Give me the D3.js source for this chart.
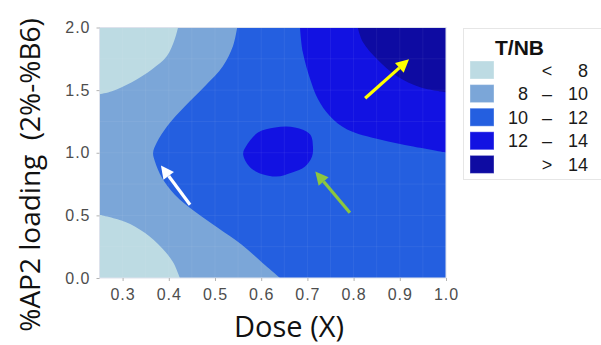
<!DOCTYPE html>
<html>
<head>
<meta charset="utf-8">
<script src="https://cdn.jsdelivr.net/npm/d3@7"></script>
<style>
  body { margin: 0; background: #fff; }
  svg { display: block; }
</style>
</head>
<body>
<script>
// T/NB contour map, Dose (X) vs %AP2 loading

var xTicks = [0.3, 0.4, 0.5, 0.6, 0.7, 0.8, 0.9, 1.0];
var yTicks = [0.0, 0.5, 1.0, 1.5, 2.0];

var bandLabels = [["", "<", "8"], ["8", "\u2013", "10"], ["10", "\u2013", "12"], ["12", "\u2013", "14"], ["", ">", "14"]];
var bandColors = ["#bddbe3", "#7ba6d8", "#245fe0", "#1212e2", "#0e0ba2"];

// contour boundaries, [dose, loading]
var edgeLow1Top = [[0.420, 2.0], [0.413, 1.908], [0.396, 1.772], [0.364, 1.667], [0.320, 1.563], [0.277, 1.491], [0.25, 1.467]];
var edgeLow1Bottom = [[0.25, 0.505], [0.305, 0.449], [0.348, 0.361], [0.385, 0.240], [0.409, 0.128], [0.424, 0.0]];
var edge10 = [[0.548, 2.0], [0.539, 1.852], [0.517, 1.691], [0.478, 1.531], [0.435, 1.371], [0.396, 1.210],
              [0.374, 1.082], [0.366, 1.0], [0.370, 0.930], [0.385, 0.802], [0.413, 0.665], [0.457, 0.529],
              [0.506, 0.401], [0.558, 0.265], [0.608, 0.104], [0.641, 0.0]];
var edge12 = [[0.684, 2.0], [0.690, 1.804], [0.706, 1.587], [0.723, 1.427], [0.749, 1.291], [0.786, 1.186],
              [0.857, 1.106], [0.929, 1.050], [1.0, 1.002]];
var edge14 = [[0.809, 2.0], [0.820, 1.884], [0.851, 1.747], [0.894, 1.611], [0.944, 1.523], [1.0, 1.483]];
var blob12 = [[0.561, 0.986], [0.567, 1.050], [0.593, 1.162], [0.630, 1.202], [0.673, 1.202], [0.706, 1.146],
              [0.712, 1.050], [0.710, 0.970], [0.695, 0.890], [0.667, 0.842], [0.630, 0.810], [0.580, 0.870]];

// arrows: [from, to, colour]
var arrows = [
  [[0.446, 0.585], [0.383, 0.898], "#ffffff"],
  [[0.792, 0.521], [0.717, 0.850], "#8cc63f"],
  [[0.825, 1.435], [0.920, 1.747], "#ffff00"]
];

var svg = d3.select("body").append("svg")
            .attr("width", 601)
            .attr("height", 345);

var margin = {left: 99.5, right: 155, top: 27.5, bottom: 67};
var width = 601 - margin.left - margin.right;
var height = 345 - margin.top - margin.bottom;

var x = d3.scaleLinear().domain([0.25, 1.0]).range([margin.left, margin.left + width]);
var y = d3.scaleLinear().domain([0, 2]).range([margin.top + height, margin.top]);

svg.append("clipPath").attr("id", "panel")
   .append("rect")
   .attr("x", x(0.25)).attr("y", y(2))
   .attr("width", x(1) - x(0.25)).attr("height", y(0) - y(2));

var panel = svg.append("g").attr("clip-path", "url(#panel)");

var line = d3.line()
             .x(function(d) { return x(d[0]); })
             .y(function(d) { return y(d[1]); })
             .curve(d3.curveCatmullRom);

// region = curved edge then straight along the panel border
function region(edge, corners) {
  return line(edge) + corners.map(function(c) { return "L" + x(c[0]) + "," + y(c[1]); }).join("") + "Z";
}

// base band 10-12
panel.append("rect")
     .attr("x", x(0.25)).attr("y", y(2))
     .attr("width", x(1) - x(0.25)).attr("height", y(0) - y(2))
     .attr("fill", bandColors[2]);

panel.append("path").attr("d", region(edge10, [[0.25, 0], [0.25, 2]])).attr("fill", bandColors[1]);
panel.append("path").attr("d", region(edgeLow1Top, [[0.25, 2]])).attr("fill", bandColors[0]);
panel.append("path").attr("d", region(edgeLow1Bottom, [[0.25, 0]])).attr("fill", bandColors[0]);
panel.append("path").attr("d", region(edge12, [[1, 2]])).attr("fill", bandColors[3]);
panel.append("path").attr("d", region(edge14, [[1, 2]])).attr("fill", bandColors[4]);
panel.append("path")
     .attr("d", d3.line().x(function(d) { return x(d[0]); }).y(function(d) { return y(d[1]); })
                  .curve(d3.curveCatmullRomClosed)(blob12))
     .attr("fill", bandColors[3]);

// faint grid showing through
var gx = d3.range(0.25, 1.001, 0.05);
var gy = d3.range(0, 2.001, 0.25);
panel.selectAll(".gx").data(gx).enter().append("line")
     .attr("x1", function(d) { return x(d); }).attr("x2", function(d) { return x(d); })
     .attr("y1", y(0)).attr("y2", y(2))
     .attr("stroke", "#fff").attr("stroke-opacity", 0.06);
panel.selectAll(".gy").data(gy).enter().append("line")
     .attr("y1", function(d) { return y(d); }).attr("y2", function(d) { return y(d); })
     .attr("x1", x(0.25)).attr("x2", x(1))
     .attr("stroke", "#fff").attr("stroke-opacity", 0.06);

svg.append("rect")
   .attr("x", x(0.25)).attr("y", y(2))
   .attr("width", x(1) - x(0.25)).attr("height", y(0) - y(2))
   .attr("fill", "none").attr("stroke", "#dde2ec").attr("stroke-width", 1);

// arrows
arrows.forEach(function(a) {
  var x0 = x(a[0][0]), y0 = y(a[0][1]), x1 = x(a[1][0]), y1 = y(a[1][1]);
  var ang = Math.atan2(y1 - y0, x1 - x0);
  var hl = 13, hw = 6.5;
  var bx = x1 - hl * Math.cos(ang), by = y1 - hl * Math.sin(ang);
  svg.append("line")
     .attr("x1", x0).attr("y1", y0).attr("x2", bx).attr("y2", by)
     .attr("stroke", a[2]).attr("stroke-width", 3.2);
  svg.append("path")
     .attr("d", "M" + x1 + "," + y1 +
                "L" + (bx + hw * Math.sin(ang)) + "," + (by - hw * Math.cos(ang)) +
                "L" + (bx - hw * Math.sin(ang)) + "," + (by + hw * Math.cos(ang)) + "Z")
     .attr("fill", a[2]);
});

// axes
var xAxis = svg.append("g")
               .attr("transform", "translate(0," + y(0) + ")")
               .call(d3.axisBottom(x).tickValues(xTicks).tickFormat(d3.format(".1f")).tickSize(3).tickPadding(5));
var yAxis = svg.append("g")
               .attr("transform", "translate(" + x(0.25) + ",0)")
               .call(d3.axisLeft(y).tickValues(yTicks).tickFormat(d3.format(".1f")).tickSize(3).tickPadding(6));

[xAxis, yAxis].forEach(function(ax) {
  ax.select(".domain").remove();
  ax.selectAll(".tick line").attr("stroke", "#b3b3b3");
  ax.selectAll(".tick text")
    .attr("fill", "#4d4d4d")
    .style("font-family", "'Liberation Sans', Arial, sans-serif")
    .style("font-size", "16px")
    .style("letter-spacing", "1px");
});
xAxis.selectAll(".tick text").attr("dy", "0.9em");

svg.append("text")
   .attr("x", 289).attr("y", 337)
   .attr("text-anchor", "middle")
   .style("font-family", "'Open Sans', sans-serif")
   .style("font-size", "29px")
   .attr("fill", "#111")
   .text("Dose (X)");

svg.append("text")
   .attr("transform", "translate(40,175) rotate(-90)")
   .attr("text-anchor", "middle")
   .style("font-family", "'Open Sans', sans-serif")
   .style("font-size", "28px")
   .style("white-space", "pre")
   .attr("fill", "#111")
   .text("%AP2 loading  (2%-%B6)");

// legend
var legend = svg.append("g");
legend.append("rect")
      .attr("x", 463.5).attr("y", 28.5).attr("width", 140).attr("height", 151)
      .attr("fill", "#fff").attr("stroke", "#e6e6e6");
legend.append("text")
      .attr("x", 495).attr("y", 55)
      .style("font-family", "'Liberation Sans', Arial, sans-serif")
      .style("font-size", "21px").style("font-weight", "bold")
      .attr("fill", "#111")
      .text("T/NB");

var rows = legend.selectAll(".row").data(bandLabels).enter().append("g")
                 .attr("transform", function(d, i) { return "translate(0," + (61 + i * 23.6) + ")"; });
rows.append("rect")
    .attr("x", 470).attr("y", 0).attr("width", 24).attr("height", 18)
    .attr("fill", function(d, i) { return bandColors[i]; })
    .attr("stroke", "#fff").attr("stroke-opacity", 0.35);
var lbl = function(sel, xp, idx, anchor) {
  sel.append("text")
     .attr("x", xp).attr("y", 15.5)
     .attr("text-anchor", anchor)
     .style("font-family", "'Liberation Sans', Arial, sans-serif")
     .style("font-size", "18px")
     .attr("fill", "#1a1a1a")
     .text(function(d) { return d[idx]; });
};
lbl(rows, 528, 0, "end");
lbl(rows, 547, 1, "middle");
lbl(rows, 588, 2, "end");
</script>
</body>
</html>
